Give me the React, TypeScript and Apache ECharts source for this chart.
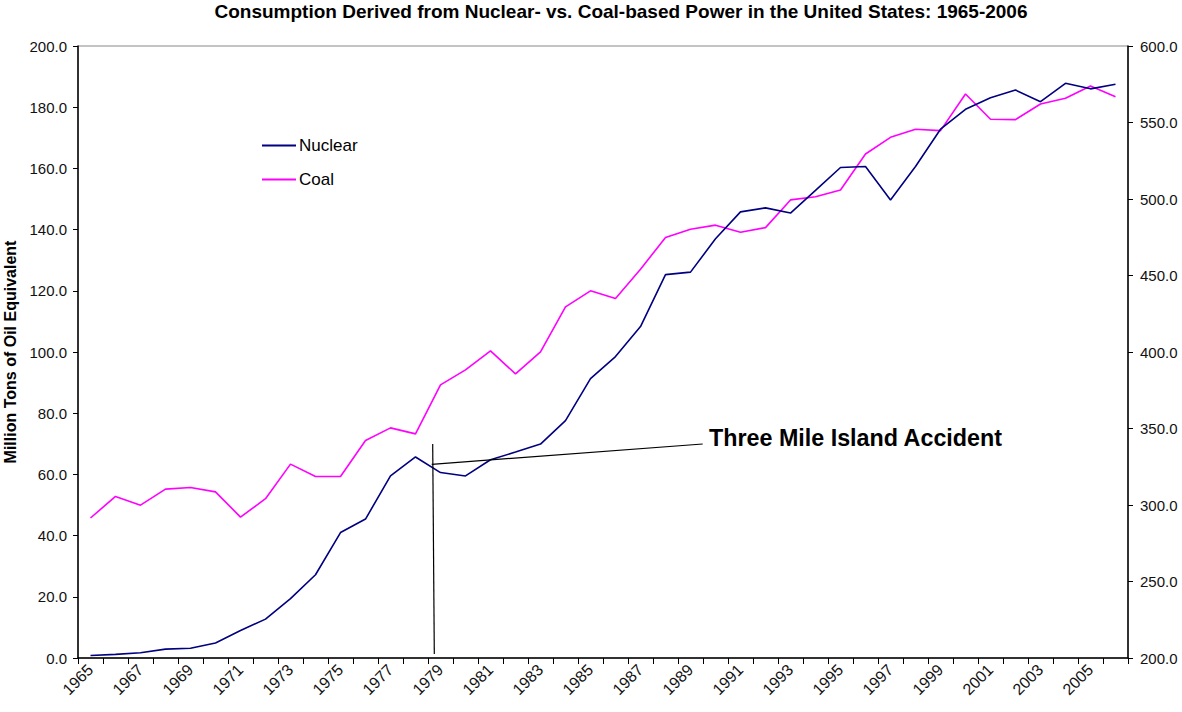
import React, { useEffect, useRef } from "react";
import * as echarts from "echarts";

const years: string[] = [];
for (let y = 1965; y <= 2006; y++) years.push(String(y));

const nuclear = [
  0.8, 1.2, 1.7, 2.9, 3.2, 4.9, 9.0, 12.7, 19.4, 27.2,
  41.0, 45.4, 59.5, 65.7, 60.6, 59.5, 64.8, 67.3, 69.9, 77.6,
  91.3, 98.5, 108.3, 125.3, 126.1, 137.0, 145.8, 147.1, 145.4, 152.8,
  160.3, 160.6, 149.7, 160.6, 172.8, 179.3, 183.1, 185.6, 181.8, 187.8,
  186.0, 187.5,
];

const coal = [
  291.5, 305.6, 299.9, 310.4, 311.4, 308.6, 292.1, 304.1, 326.7, 318.6,
  318.6, 342.2, 350.4, 346.5, 378.5, 388.3, 400.7, 385.7, 400.1, 429.5,
  440.0, 434.9, 454.1, 474.8, 480.2, 482.9, 478.3, 481.3, 499.4, 501.5,
  505.9, 529.4, 540.3, 545.6, 544.7, 568.6, 552.1, 551.9, 562.1, 565.8,
  573.9, 566.9,
];

const FONT = "'Liberation Sans', Arial, Helvetica, sans-serif";

export default function App() {
  const ref = useRef<HTMLDivElement>(null);
  useEffect(() => {
    document.body.style.margin = "0";
    if (!ref.current) return;
    const chart = echarts.init(ref.current, undefined, { renderer: "svg" });
    chart.setOption({
      animation: false,
      backgroundColor: "#ffffff",
      textStyle: { fontFamily: FONT },
      title: {
        text: "Consumption Derived from Nuclear- vs. Coal-based Power in the United States: 1965-2006",
        left: 621,
        textAlign: "center",
        top: 2,
        padding: 0,
        textStyle: { fontFamily: FONT, fontSize: 19, fontWeight: "bold", color: "#000" },
      },
      legend: {
        orient: "vertical",
        left: 262,
        top: 137,
        padding: 0,
        itemWidth: 34,
        itemHeight: 2,
        itemGap: 17,
        icon: "rect",
        data: ["Nuclear", "Coal"],
        textStyle: { fontFamily: FONT, fontSize: 17, color: "#000", padding: [0, 0, 0, -2] },
      },
      grid: {
        left: 78,
        right: 54,
        top: 46,
        bottom: 54,
        containLabel: false,
        outerBoundsMode: "none",
        show: true,
        borderColor: "#888",
        borderWidth: 1,
      },
      xAxis: {
        type: "category",
        data: years,
        boundaryGap: true,
        axisLine: { lineStyle: { color: "#000", width: 1.5 } },
        axisTick: { show: true, interval: 0, length: 6, lineStyle: { color: "#000" } },
        axisLabel: {
          interval: 1,
          rotate: 45,
          fontSize: 16,
          color: "#111",
          fontFamily: FONT,
          margin: 9,
        },
        splitLine: { show: false },
      },
      yAxis: [
        {
          type: "value",
          min: 0,
          max: 200,
          interval: 20,
          name: "Million Tons of Oil Equivalent",
          nameLocation: "middle",
          nameRotate: 90,
          nameGap: 56,
          nameTextStyle: { fontFamily: FONT, fontSize: 16, fontWeight: "bold", color: "#000" },
          axisLine: { show: true, lineStyle: { color: "#000", width: 1.5 } },
          axisTick: { show: true, length: 5, lineStyle: { color: "#000" } },
          axisLabel: {
            fontSize: 15,
            color: "#111",
            fontFamily: FONT,
            margin: 11,
            formatter: (v: number) => v.toFixed(1),
          },
          splitLine: { show: false },
        },
        {
          type: "value",
          min: 200,
          max: 600,
          interval: 50,
          position: "right",
          axisLine: { show: true, lineStyle: { color: "#000", width: 1.5 } },
          axisTick: { show: true, length: 5, lineStyle: { color: "#000" } },
          axisLabel: {
            fontSize: 15,
            color: "#111",
            fontFamily: FONT,
            margin: 12,
            formatter: (v: number) => v.toFixed(1),
          },
          splitLine: { show: false },
        },
      ],
      series: [
        {
          name: "Nuclear",
          type: "line",
          yAxisIndex: 0,
          data: nuclear,
          symbol: "none",
          color: "#000080",
          lineStyle: { color: "#000080", width: 1.6 },
          z: 3,
        },
        {
          name: "Coal",
          type: "line",
          yAxisIndex: 1,
          data: coal,
          symbol: "none",
          color: "#ff00ff",
          lineStyle: { color: "#ff00ff", width: 1.6 },
          z: 2,
        },
      ],
      graphic: [
        {
          type: "line",
          shape: { x1: 432.7, y1: 444, x2: 434.3, y2: 654 },
          style: { stroke: "#000", lineWidth: 1.2 },
          z: 10,
        },
        {
          type: "line",
          shape: { x1: 431.7, y1: 464.3, x2: 702.7, y2: 444 },
          style: { stroke: "#000", lineWidth: 1.2 },
          z: 10,
        },
        {
          type: "text",
          x: 709,
          y: 438,
          style: {
            text: "Three Mile Island Accident",
            fontFamily: FONT,
            fontSize: 23.3,
            fontWeight: "bold",
            fill: "#000",
            textVerticalAlign: "middle",
            verticalAlign: "middle",
          },
          z: 10,
        },
      ],
    });
    return () => chart.dispose();
  }, []);
  return <div ref={ref} style={{ width: 1182, height: 712 }} />;
}
